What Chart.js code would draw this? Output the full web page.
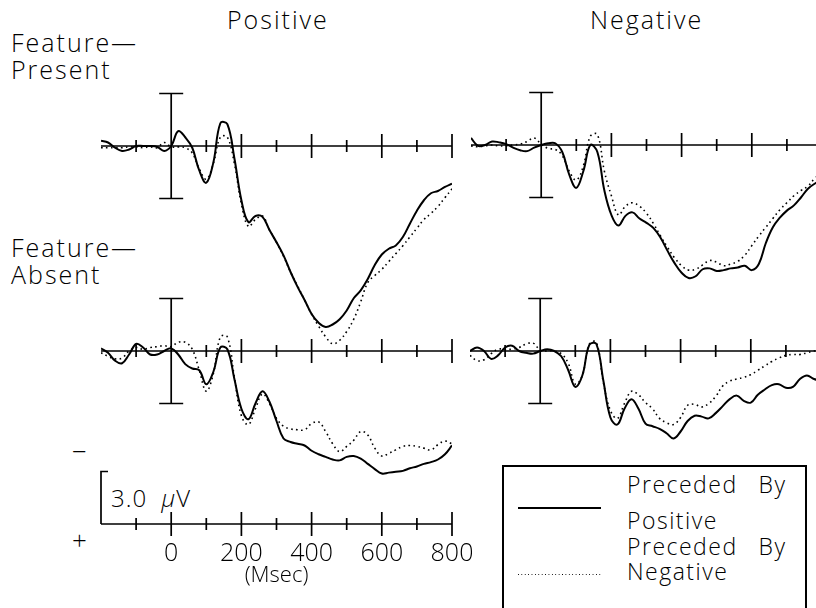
<!DOCTYPE html>
<html>
<head>
<meta charset="utf-8">
<script src="https://cdn.jsdelivr.net/npm/chart.js@4.4.1/dist/chart.umd.min.js"></script>
<style>
  html, body { margin: 0; padding: 0; background: #fff; }
  body {
    position: relative; width: 816px; height: 608px; overflow: hidden;
    font-family: 'Open Sans', 'DejaVu Sans', sans-serif; color: #000;
  }
  canvas { position: absolute; }
  .lbl { position: absolute; font-size: 25px; line-height: 27px; letter-spacing: 2px; white-space: pre; font-weight: 300; }
  .leg { position: absolute; font-size: 23px; line-height: 22px; letter-spacing: 1.5px; word-spacing: 3px; white-space: pre; font-weight: 300; }
  #legend-box {
    position: absolute; left: 502px; top: 465px; width: 301px; height: 200px;
    border: 2px solid #000;
  }
  .sample { position: absolute; left: 518px; width: 83px; }
  .sample.solid { top: 507px; height: 2px; background: #000; }
  .sample.dotted {
    top: 574px; height: 1px;
    background: linear-gradient(90deg, #000 1px, transparent 1px) 0 0 / 3.4px 1px repeat-x;
  }
</style>
</head>
<body>

<div class="lbl" style="left:227px;top:6px">Positive</div>
<div class="lbl" style="left:590px;top:6px">Negative</div>
<div class="lbl" style="left:11px;top:29px">Feature—
Present</div>
<div class="lbl" style="left:11px;top:234px">Feature—
Absent</div>

<div class="lbl" style="left:72px;top:438px;font-size:26px">−</div>
<div class="lbl" style="left:72px;top:527px;font-size:26px">+</div>
<div class="lbl" style="left:111px;top:484px;font-size:24px;letter-spacing:1px">3.0  <i>µ</i>V</div>

<div id="legend-box"></div>
<div class="sample solid"></div>
<div class="sample dotted"></div>
<div class="leg" style="left:627px;top:473px">Preceded  By</div>
<div class="leg" style="left:627px;top:509px">Positive</div>
<div class="leg" style="left:627px;top:535px">Preceded  By</div>
<div class="leg" style="left:627px;top:560px">Negative</div>

<canvas id="p-tl"></canvas>
<canvas id="p-tr"></canvas>
<canvas id="p-bl"></canvas>
<canvas id="p-br"></canvas>
<canvas id="p-scale"></canvas>

<script>
// ── Data (µV, positive plotted downward) ─────────────────────────────────────

const TIMES = [
  -200, -180, -160, -140, -120, -100, -80, -60, -40, -20,
  0, 20, 40, 60, 80, 100, 120, 140, 160, 180,
  200, 220, 240, 260, 280, 300, 320, 340, 360, 380,
  400, 420, 440, 460, 480, 500, 520, 540, 560, 580,
  600, 620, 640, 660, 680, 700, 720, 740, 760, 780, 800,
];

// Feature-Present / Positive
const PRES_POS_SOLID = [
  -0.3, -0.2, 0.1, 0.28, 0.2, 0.0, 0.0, 0.0, 0.05, 0.28,
  0.0, -0.85, -0.5, 0.1, 1.4, 2.1, 0.95, -1.3, -1.25, 0.7,
  3.1, 4.35, 4.0, 4.05, 4.8, 5.5, 6.25, 7.2, 8.05, 8.8,
  9.6, 10.1, 10.34, 10.2, 9.9, 9.4, 8.7, 8.25, 7.6, 6.8,
  6.2, 5.87, 5.68, 5.2, 4.44, 3.7, 3.1, 2.7, 2.57, 2.34, 2.15,
];
const PRES_POS_DOTTED = [
  0.1, 0.1, 0.1, 0.1, 0.05, 0.05, 0.1, 0.05, 0.1, -0.2,
  0.05, 0.05, 0.1, 0.4, 1.3, 1.9, 1.0, -0.5, -0.5, 1.0,
  3.3, 4.6, 4.2, 4.0, 4.8, 5.5, 6.3, 7.2, 8.0, 8.8,
  9.6, 10.3, 10.9, 11.3, 11.1, 10.6, 9.9, 8.9, 7.8, 7.4,
  7.05, 6.6, 6.15, 5.7, 5.2, 4.7, 4.2, 3.85, 3.45, 2.95, 2.45,
];

// Feature-Present / Negative
const PRES_NEG_SOLID = [
  -0.4, 0.05, 0.0, -0.2, -0.15, -0.05, 0.15, 0.3, 0.35, 0.15,
  0.0, -0.1, -0.1, 0.4, 1.7, 2.45, 1.5, 0.0, 0.4, 2.6,
  4.0, 4.6, 4.05, 3.85, 4.2, 4.45, 4.75, 5.3, 6.05, 6.75,
  7.3, 7.6, 7.5, 7.1, 7.05, 7.2, 7.15, 7.05, 7.0, 6.9,
  7.15, 6.8, 5.6, 4.7, 4.15, 3.75, 3.45, 3.0, 2.5, 2.2, 2.0,
];
const PRES_NEG_DOTTED = [
  0.05, 0.1, 0.05, 0.0, 0.05, 0.05, 0.0, -0.05, -0.2, -0.4,
  -0.05, 0.2, 0.25, 0.6, 1.5, 2.0, 1.2, -0.5, -0.6, 1.5,
  2.9, 4.0, 3.5, 3.3, 3.5, 3.9, 4.5, 5.2, 5.85, 6.45,
  6.9, 7.15, 7.1, 6.85, 6.6, 6.7, 6.9, 6.8, 6.65, 6.3,
  5.75, 5.2, 4.7, 4.2, 3.7, 3.3, 2.9, 2.6, 2.35, 1.9, 1.6,
];

// Feature-Absent / Positive
const ABS_POS_SOLID = [
  -0.15, 0.1, 0.55, 0.7, 0.2, -0.4, -0.2, 0.2, 0.2, 0.0,
  -0.15, 0.2, 0.75, 1.0, 1.1, 1.9, 1.2, -0.2, -0.1, 1.6,
  3.3, 3.9, 3.0, 2.3, 2.9, 4.0, 5.0, 5.2, 5.3, 5.4,
  5.7, 5.9, 6.05, 6.2, 6.25, 6.05, 6.0, 6.15, 6.45, 6.75,
  7.0, 6.95, 6.9, 6.85, 6.7, 6.6, 6.45, 6.35, 6.2, 5.9, 5.4,
];
const ABS_POS_DOTTED = [
  0.1, 0.3, 0.45, 0.4, 0.0, -0.2, -0.1, -0.2, -0.25, -0.3,
  -0.25, -0.5, -0.5, -0.1, 1.1, 2.3, 1.3, -0.8, -0.8, 1.5,
  3.7, 4.2, 3.3, 2.45, 3.0, 3.85, 4.3, 4.45, 4.5, 4.5,
  4.15, 4.05, 4.6, 5.3, 5.75, 5.45, 5.1, 4.6, 4.8, 5.55,
  6.0, 5.85, 5.65, 5.45, 5.4, 5.45, 5.55, 5.65, 5.35, 5.15, 5.3,
];

// Feature-Absent / Negative
const ABS_NEG_SOLID = [
  0.0, -0.2, 0.0, 0.45, 0.25, -0.2, -0.3, 0.0, 0.1, 0.15,
  0.0, -0.1, 0.0, 0.3, 1.1, 2.05, 1.4, -0.35, -0.4, 1.7,
  3.8, 4.2, 3.3, 2.75, 3.3, 4.15, 4.3, 4.45, 4.7, 5.0,
  4.6, 4.0, 3.7, 3.75, 3.85, 3.55, 3.15, 2.75, 2.55, 2.85,
  2.95, 2.5, 2.2, 1.95, 1.9, 2.1, 2.05, 1.6, 1.4, 1.6, 1.7,
];
const ABS_NEG_DOTTED = [
  0.25, 0.55, 0.5, 0.15, -0.1, -0.1, -0.1, -0.2, -0.4, -0.45,
  -0.05, 0.0, 0.0, 0.15, 0.7, 1.9, 1.4, -0.4, -0.5, 1.8,
  3.4, 3.85, 3.0, 2.3, 2.5, 2.95, 3.3, 3.85, 4.1, 4.2,
  3.8, 3.1, 3.05, 3.2, 3.0, 2.6, 2.0, 1.72, 1.6, 1.5,
  1.35, 1.1, 0.85, 0.6, 0.4, 0.25, 0.2, 0.2, 0.1, 0.0, -0.05,
];

const AXIS_TICKS = [-100, 0, 100, 200, 300, 400, 500, 600, 700, 800];
const TICK_LABEL_MS = [0, 200, 400, 600, 800];
const TICK_LABELS = ['0', '200', '400', '600', '800'];
const UNIT_LABEL = '(Msec)';
const CAL_UV = 3.0;

// ── Geometry ─────────────────────────────────────────────────────────────────

const PX_PER_MS = 0.351;
const PX_PER_UV = 17.5;
const UV_MIN = -4, UV_MAX = 12;
const PAD = 20;

// ── Axis plugin: baseline, ticks, calibration bar ────────────────────────────

const erpAxes = {
  id: 'erpAxes',
  beforeDatasetsDraw(chart, args, opts) {
    const { ctx, scales: { x, y } } = chart;
    const y0 = y.getPixelForValue(0);
    ctx.save();
    ctx.strokeStyle = '#000';
    ctx.lineWidth = 1.7;
    ctx.beginPath();
    ctx.moveTo(x.getPixelForValue(TIMES[0]), y0);
    ctx.lineTo(x.getPixelForValue(TIMES[TIMES.length - 1]), y0);
    AXIS_TICKS.forEach(t => {
      if (opts.mode === 'panel' && t === 0) return;
      const px = x.getPixelForValue(t);
      const h = t % 200 === 0 ? 12 : 6;
      ctx.moveTo(px, y0 - h);
      ctx.lineTo(px, y0 + h);
    });
    ctx.stroke();

    if (opts.mode === 'panel') {
      // calibration bar at stimulus onset
      const px = x.getPixelForValue(0);
      const yt = y.getPixelForValue(-CAL_UV), yb = y.getPixelForValue(CAL_UV);
      ctx.beginPath();
      ctx.moveTo(px, yt); ctx.lineTo(px, yb);
      ctx.moveTo(px - 12, yt); ctx.lineTo(px + 12, yt);
      ctx.moveTo(px - 12, yb); ctx.lineTo(px + 12, yb);
      ctx.stroke();
    } else {
      // scale bar + time labels
      const px = x.getPixelForValue(TIMES[0]);
      const yt = y.getPixelForValue(-CAL_UV);
      ctx.beginPath();
      ctx.moveTo(px, y0); ctx.lineTo(px, yt); ctx.lineTo(px + 7, yt);
      ctx.stroke();

      ctx.fillStyle = '#000';
      ctx.font = '300 25px "Open Sans", sans-serif';
      ctx.textAlign = 'center';
      ctx.textBaseline = 'alphabetic';
      TICK_LABEL_MS.forEach((t, i) => {
        ctx.fillText(TICK_LABELS[i], x.getPixelForValue(t), y0 + 37);
      });
      ctx.font = '300 22px "Open Sans", sans-serif';
      ctx.fillText(UNIT_LABEL, x.getPixelForValue(300), y0 + 58);
    }
    ctx.restore();
  },
};

// ── Panels ───────────────────────────────────────────────────────────────────

function series(vals, dotted) {
  return {
    data: TIMES.map((t, i) => ({ x: t, y: vals[i] })),
    borderColor: '#000',
    borderWidth: dotted ? 1.6 : 2,
    borderDash: dotted ? [1.6, 3.4] : [],
    pointRadius: 0,
    tension: 0.4,
    fill: false,
  };
}

function makePanel(id, x0, base, mode, solid, dotted) {
  const el = document.getElementById(id);
  const w = Math.round((TIMES[TIMES.length - 1] - TIMES[0]) * PX_PER_MS) + 2 * PAD;
  const h = Math.round((UV_MAX - UV_MIN) * PX_PER_UV) + 2 * PAD;
  el.width = w; el.height = h;
  el.style.left = (x0 - PAD) + 'px';
  el.style.top = (base + UV_MIN * PX_PER_UV - PAD) + 'px';

  const datasets = solid ? [series(solid, false), series(dotted, true)] : [];

  new Chart(el, {
    type: 'line',
    data: { datasets },
    options: {
      responsive: false,
      animation: false,
      layout: { padding: PAD },
      plugins: {
        legend: { display: false },
        tooltip: { enabled: false },
        erpAxes: { mode },
      },
      scales: {
        x: { type: 'linear', min: TIMES[0], max: TIMES[TIMES.length - 1], display: false },
        y: { type: 'linear', min: UV_MIN, max: UV_MAX, reverse: true, display: false },
      },
    },
    plugins: [erpAxes],
  });
}

makePanel('p-tl', 101, 146, 'panel', PRES_POS_SOLID, PRES_POS_DOTTED);
makePanel('p-tr', 471, 145, 'panel', PRES_NEG_SOLID, PRES_NEG_DOTTED);
makePanel('p-bl', 101, 351, 'panel', ABS_POS_SOLID, ABS_POS_DOTTED);
makePanel('p-br', 470, 351, 'panel', ABS_NEG_SOLID, ABS_NEG_DOTTED);
makePanel('p-scale', 101, 524, 'scale', null, null);
</script>
</body>
</html>
